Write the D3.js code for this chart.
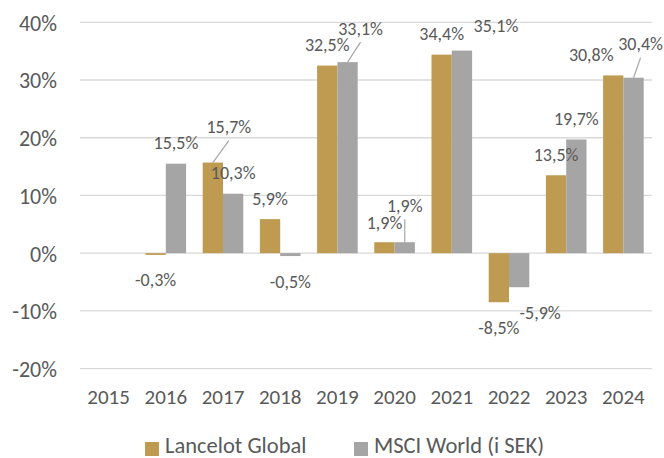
<!DOCTYPE html>
<html>
<head>
<meta charset="utf-8">
<script src="https://cdn.jsdelivr.net/npm/d3@7"></script>
<style>
  body { margin: 0; background: #fff; }
  text { font-family: Carlito, Calibri, Lato, sans-serif; fill: #595959; }
</style>
</head>
<body>
<div id="chart"></div>
<script>
// data
const years = ["2015", "2016", "2017", "2018", "2019", "2020", "2021", "2022", "2023", "2024"];
const lancelot = [null, -0.3, 15.7, 5.9, 32.5, 1.9, 34.4, -8.5, 13.5, 30.8];
const msci = [null, 15.5, 10.3, -0.5, 33.1, 1.9, 35.1, -5.9, 19.7, 30.4];
const seriesNames = ["Lancelot Global", "MSCI World (i SEK)"];
const yTicks = [-20, -10, 0, 10, 20, 30, 40];

// manually dragged data labels (dx, dy from default place, leader line)
const lancelotMoves = { "2017": [16, -15, true], "2020": [0, 1, false], "2024": [-22, 0, false] };
const msciMoves = { "2019": [13, -13, true], "2020": [0, -16, true], "2021": [34, -4, false], "2022": [21, 0, false], "2024": [7, -13, true] };

const width = 664, height = 458;
const colors = ["#BF9B51", "#A5A5A5"];

const svg = d3.select("#chart").append("svg")
    .attr("width", width)
    .attr("height", height);

const x = d3.scaleBand().domain(years).range([80, 652]).paddingInner(0.29).paddingOuter(0.145);
const xs = d3.scaleBand().domain([0, 1]).range([0, x.bandwidth()]);
const y = d3.scaleLinear().domain([-20, 40]).range([368.6, 22.3]);

// gridlines
svg.append("g")
    .selectAll("line")
    .data(yTicks)
    .enter().append("line")
    .attr("x1", 80)
    .attr("x2", 652)
    .attr("y1", d => y(d))
    .attr("y2", d => y(d))
    .attr("stroke", "#D9D9D9")
    .attr("stroke-width", 1.3);

// y axis labels
const yAxis = svg.append("g")
    .attr("transform", "translate(57,0)")
    .call(d3.axisLeft(y).tickValues(yTicks).tickSize(0).tickPadding(0).tickFormat(d => d + "%"));
yAxis.select(".domain").remove();
yAxis.selectAll("text").attr("font-size", 22).attr("fill", "#595959").attr("dy", "0.36em");

// x axis labels
const xAxis = svg.append("g")
    .attr("transform", "translate(0,396)")
    .call(d3.axisBottom(x).tickSize(0).tickPadding(0));
xAxis.select(".domain").remove();
xAxis.selectAll("text").attr("font-size", 21).attr("fill", "#595959").attr("dy", "0.36em");

const series = [lancelot, msci];
const moves = [lancelotMoves, msciMoves];
const points = series.map(vals => years.map((yr, i) => ({ yr, v: vals[i] })).filter(d => d.v !== null));

// bars
points.forEach((pts, s) => {
    svg.append("g")
        .selectAll("rect")
        .data(pts)
        .enter().append("rect")
        .attr("x", d => x(d.yr) + xs(s))
        .attr("width", xs.bandwidth())
        .attr("y", d => y(Math.max(0, d.v)))
        .attr("height", d => Math.abs(y(d.v) - y(0)))
        .attr("fill", colors[s]);
});

// data labels on top of every bar
const labels = svg.append("g");
points.forEach((pts, s) => {
    pts.forEach(d => {
        const cx = x(d.yr) + xs(s) + xs.bandwidth() / 2;
        const end = y(d.v);
        const m = moves[s][d.yr] || [0, 0, false];
        const lx = cx + m[0];
        const ly = (d.v >= 0 ? end - 21 : end + 25) + m[1];
        if (m[2]) {
            labels.append("line")
                .attr("x1", lx).attr("y1", ly + 14)
                .attr("x2", cx).attr("y2", end)
                .attr("stroke", "#A6A6A6")
                .attr("stroke-width", 1.2);
        }
        labels.append("text")
            .attr("x", lx)
            .attr("y", ly)
            .attr("dy", "0.36em")
            .attr("text-anchor", "middle")
            .attr("font-size", 18)
            .text(d3.format(".1f")(d.v).replace(".", ",").replace("−", "-") + "%");
    });
});

// legend
const legendX = [145, 354];
const legend = svg.append("g");
seriesNames.forEach((name, i) => {
    legend.append("rect")
        .attr("x", legendX[i])
        .attr("y", 442)
        .attr("width", 14)
        .attr("height", 14)
        .attr("fill", colors[i]);
    legend.append("text")
        .attr("x", legendX[i] + 20)
        .attr("y", 444.5)
        .attr("dy", "0.36em")
        .attr("font-size", 22.5)
        .text(name);
});
</script>
</body>
</html>
